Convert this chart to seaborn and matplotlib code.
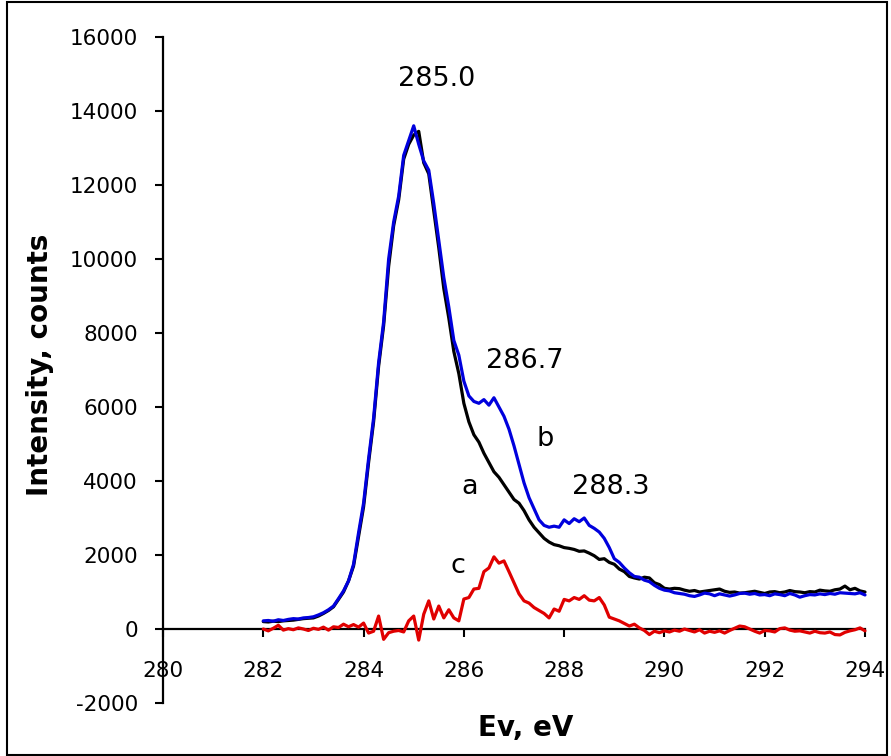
import numpy as np
import pandas as pd
import matplotlib
matplotlib.use("Agg")
import matplotlib.pyplot as plt
import seaborn as sns
from matplotlib.patches import Rectangle

# ---------------- data ----------------
energy = np.round(np.arange(282.0, 294.0001, 0.1), 1)

curve_a = [
    200, 190, 210, 200, 220, 230, 240, 260, 280, 290,
    300, 350, 420, 500, 600, 800, 1000, 1300, 1700, 2500,
    3300, 4500, 5600, 7100, 8200, 9800, 10900, 11600, 12700, 13100,
    13350, 13450, 12600, 12300, 11300, 10300, 9200, 8400, 7500, 6900,
    6100, 5600, 5250, 5050, 4750, 4500, 4250, 4100, 3900, 3700,
    3500, 3400, 3200, 2950, 2750, 2600, 2450, 2350, 2280, 2250,
    2200, 2180, 2150, 2100, 2110, 2050, 1980, 1880, 1900, 1800,
    1750, 1620, 1550, 1420, 1380, 1350, 1400, 1380, 1250, 1200,
    1100, 1080, 1100, 1090, 1050, 1020, 1040, 1000, 1020, 1040,
    1060, 1080, 1020, 990, 1000, 970, 980, 1000, 1020, 990,
    960, 1000, 1010, 980, 1000, 1040, 1010, 1000, 980, 1010,
    1000, 1050, 1030, 1020, 1060, 1080, 1160, 1060, 1100, 1030,
    1000,
]

curve_b = [
    220, 230, 210, 250, 230, 260, 280, 270, 300, 310,
    330, 380, 440, 520, 620, 820, 1030, 1300, 1750, 2600,
    3400, 4600, 5700, 7200, 8300, 10000, 11000, 11700, 12800, 13200,
    13600, 13100, 12650, 12400, 11500, 10500, 9500, 8700, 7800, 7400,
    6700, 6300, 6150, 6100, 6200, 6050, 6250, 6000, 5750, 5400,
    4950, 4450, 3950, 3550, 3250, 2950, 2800, 2750, 2780, 2750,
    2950, 2850, 2980, 2900, 3000, 2800, 2720, 2620, 2450, 2200,
    1900, 1800, 1650, 1520, 1420, 1400, 1320, 1280, 1180, 1100,
    1050, 1030, 980, 960, 940, 900, 880, 920, 970, 950,
    900, 950, 920, 890, 920, 960, 970, 940, 960, 920,
    930, 900, 950, 930, 900, 960, 920, 860, 900, 930,
    920, 950, 930, 960, 940, 980, 970, 960, 950, 980,
    920,
]

curve_c = [
    0, -50, 20, 100, -30, 10, -20, 30, 0, -40,
    20, -10, 50, -30, 60, 40, 130, 60, 120, 50,
    160, -110, -60, 350, -280, -100, -60, -40, -80, 220,
    350, -300, 400, 760, 270, 620, 300, 520, 300, 220,
    810, 850, 1080, 1100, 1550, 1650, 1950, 1780, 1840, 1550,
    1250, 950, 760, 700, 580, 500, 420, 300, 540, 480,
    800, 760, 850, 800, 900, 780, 760, 850, 650, 320,
    270, 220, 150, 80, 130, 30, -40, -150, -60, -100,
    -50, -80, -30, -60, 0, -40, -80, -20, -110, -60,
    -90, -50, -110, -40, 20, 80, 60, 0, -60, -110,
    -40, -50, -80, 10, 30, -30, -60, -50, -80, -110,
    -60, -100, -110, -80, -150, -160, -90, -50, -20, 30,
    -50,
]

series_names = ["a", "b", "c"]
series_colors = ["#000000", "#0000DD", "#E00000"]

peak_labels = ["285.0", "286.7", "288.3"]
peak_x = [285.46, 287.22, 288.92]
peak_y = [14680, 7060, 3650]

letter_x = [286.12, 287.62, 285.88]
letter_y = [3650, 4950, 1510]

x_ticks = [280, 282, 284, 286, 288, 290, 292, 294]
y_ticks = [-2000, 0, 2000, 4000, 6000, 8000, 10000, 12000, 14000, 16000]

# ---------------- build table ----------------
n = len(energy)
df = pd.DataFrame({
    "Ev": np.concatenate([energy, energy, energy]),
    "Intensity": curve_a + curve_b + curve_c,
    "series": ["a"] * n + ["b"] * n + ["c"] * n,
})

sns.set_style("ticks")
plt.rcParams["font.family"] = ["DejaVu Sans"]
plt.rcParams["axes.unicode_minus"] = False
plt.rcParams["text.color"] = "black"

W, H = 891, 756
fig = plt.figure(figsize=(W / 100, H / 100), dpi=100)
ax = fig.add_axes([163 / W, 53 / H, (865 - 163) / W, (703 - 37) / H])

sns.lineplot(
    data=df, x="Ev", y="Intensity", hue="series",
    hue_order=series_names,
    palette=dict(zip(series_names, series_colors)),
    linewidth=2.3, legend=False, ax=ax, sort=False, estimator=None,
)

ax.set_xlim(280, 294)
ax.set_ylim(-2000, 16000)
ax.set_xticks(x_ticks)
ax.set_yticks(y_ticks)
ax.set_xlabel("")
ax.set_ylabel("")

for s in ["top", "right"]:
    ax.spines[s].set_visible(False)
ax.spines["bottom"].set_position(("data", 0))
for s in ["bottom", "left"]:
    ax.spines[s].set_linewidth(1.6)
    ax.spines[s].set_color("black")
ax.spines["bottom"].set_zorder(1)

ax.tick_params(axis="x", direction="out", length=6, width=1.5, pad=17,
               labelsize=15.5, colors="black")
ax.tick_params(axis="y", direction="out", length=6, width=1.5, pad=12,
               labelsize=15.5, colors="black")

for line in ax.lines:
    line.set_clip_on(False)

# annotations
for lab, x, y in zip(peak_labels, peak_x, peak_y):
    ax.text(x, y, lab, ha="center", va="baseline", fontsize=19.5, color="black")
for lab, x, y in zip(series_names, letter_x, letter_y):
    ax.text(x, y, lab, ha="center", va="baseline", fontsize=19.5, color="black")

fig.text(526 / W, 1 - 728 / H, "Ev, eV", ha="center", va="center",
         fontsize=20, fontweight="bold", color="black")
fig.text(40 / W, 1 - 365 / H, "Intensity, counts", ha="center", va="center",
         rotation=90, fontsize=20, fontweight="bold", color="black")

fig.patches.append(Rectangle((7 / W, 1 / H), (887 - 7) / W, (754 - 1) / H,
                             transform=fig.transFigure, fill=False,
                             edgecolor="black", linewidth=1.5))

fig.savefig("out.png", dpi=100)
